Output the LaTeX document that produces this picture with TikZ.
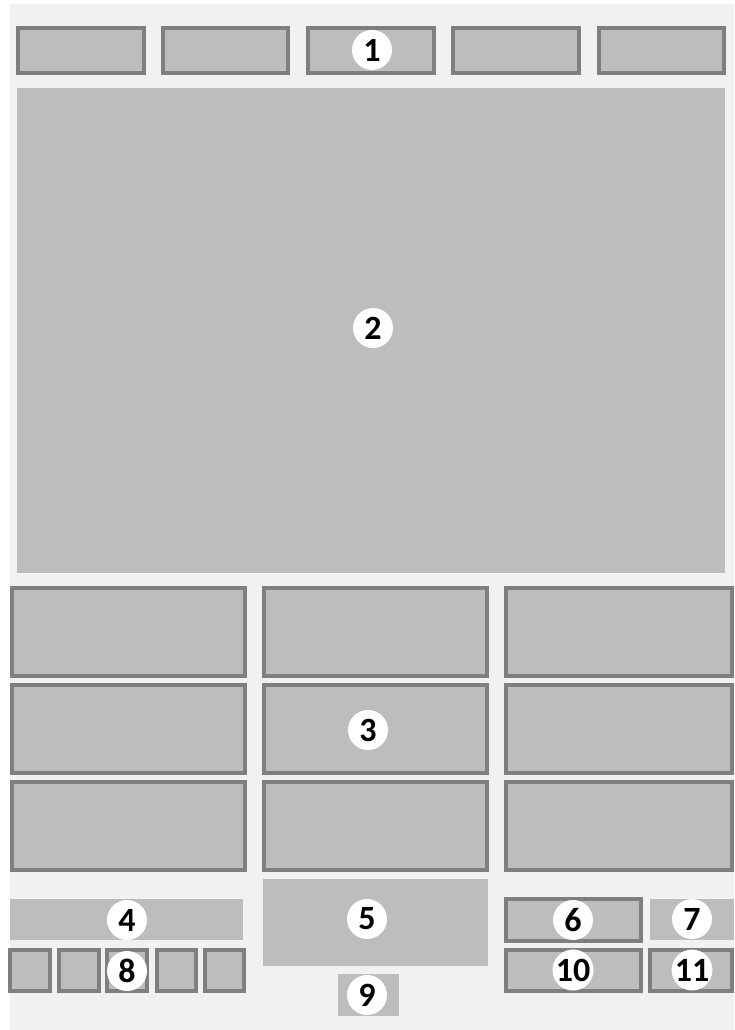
\documentclass[tikz,border=0pt]{standalone}
\usepackage{fontspec}
\setmainfont{Carlito}
\definecolor{bgc}{HTML}{F1F1F1}
\definecolor{boxfill}{HTML}{BDBDBD}
\definecolor{bord}{HTML}{7F7F7F}
\newcommand\bbox[4]{\draw[bbox] (#1+2,#2+2) rectangle (#3-2,#4-2);}
\newcommand\pbox[4]{\fill[pbox] (#1,#2) rectangle (#3,#4);}
\begin{document}
\begin{tikzpicture}[x=1pt,y=-1pt,
  bbox/.style={draw=bord,line width=4pt,fill=boxfill},
  pbox/.style={fill=boxfill},
  lab/.style={circle,fill=white,minimum size=40pt,inner sep=0pt,text=black,font=\bfseries\fontsize{34}{34}\selectfont}]
\useasboundingbox (0,0) rectangle (734,1030);
\fill[white] (0,0) rectangle (734,1030);
\fill[bgc] (10,4) rectangle (734,1030);
% top row
\bbox{16}{26}{146}{75}
\bbox{161}{26}{290}{75}
\bbox{306}{26}{436}{75}
\bbox{451}{26}{581}{75}
\bbox{597}{26}{726}{75}
% big area
\pbox{17}{88}{725}{573}
% grid
\bbox{10}{586}{247}{678}
\bbox{262}{586}{489}{678}
\bbox{504}{586}{734}{678}
\bbox{10}{683}{247}{775}
\bbox{262}{683}{489}{775}
\bbox{504}{683}{734}{775}
\bbox{10}{780}{247}{872}
\bbox{262}{780}{489}{872}
\bbox{504}{780}{734}{872}
% bottom
\pbox{10}{899}{243}{940}
\bbox{8}{948}{52}{993}
\bbox{57}{948}{101}{993}
\bbox{105}{948}{149}{993}
\bbox{155}{948}{198}{993}
\bbox{203}{948}{246}{993}
\pbox{263}{879}{488}{966}
\pbox{338}{974}{399}{1016}
\bbox{504}{897}{643}{943}
\pbox{650}{899}{734}{940}
\bbox{504}{948}{643}{993}
\bbox{648}{948}{734}{993}
% labels
\node[lab] (l1) at (372,50) {1};
\node[lab] (l2) at (373,328) {2};
\node[lab] (l3) at (368,730) {3};
\node[lab] (l4) at (127,920) {4};
\node[lab] (l5) at (367,919) {5};
\node[lab] (l6) at (573,920) {6};
\node[lab] (l7) at (692,919) {7};
\node[lab] (l8) at (127,971) {8};
\node[lab] (l9) at (367,995) {9};
\node[lab] (l10) at (573,970) {10};
\node[lab] (l11) at (692,970) {11};
\end{tikzpicture}
\end{document}
